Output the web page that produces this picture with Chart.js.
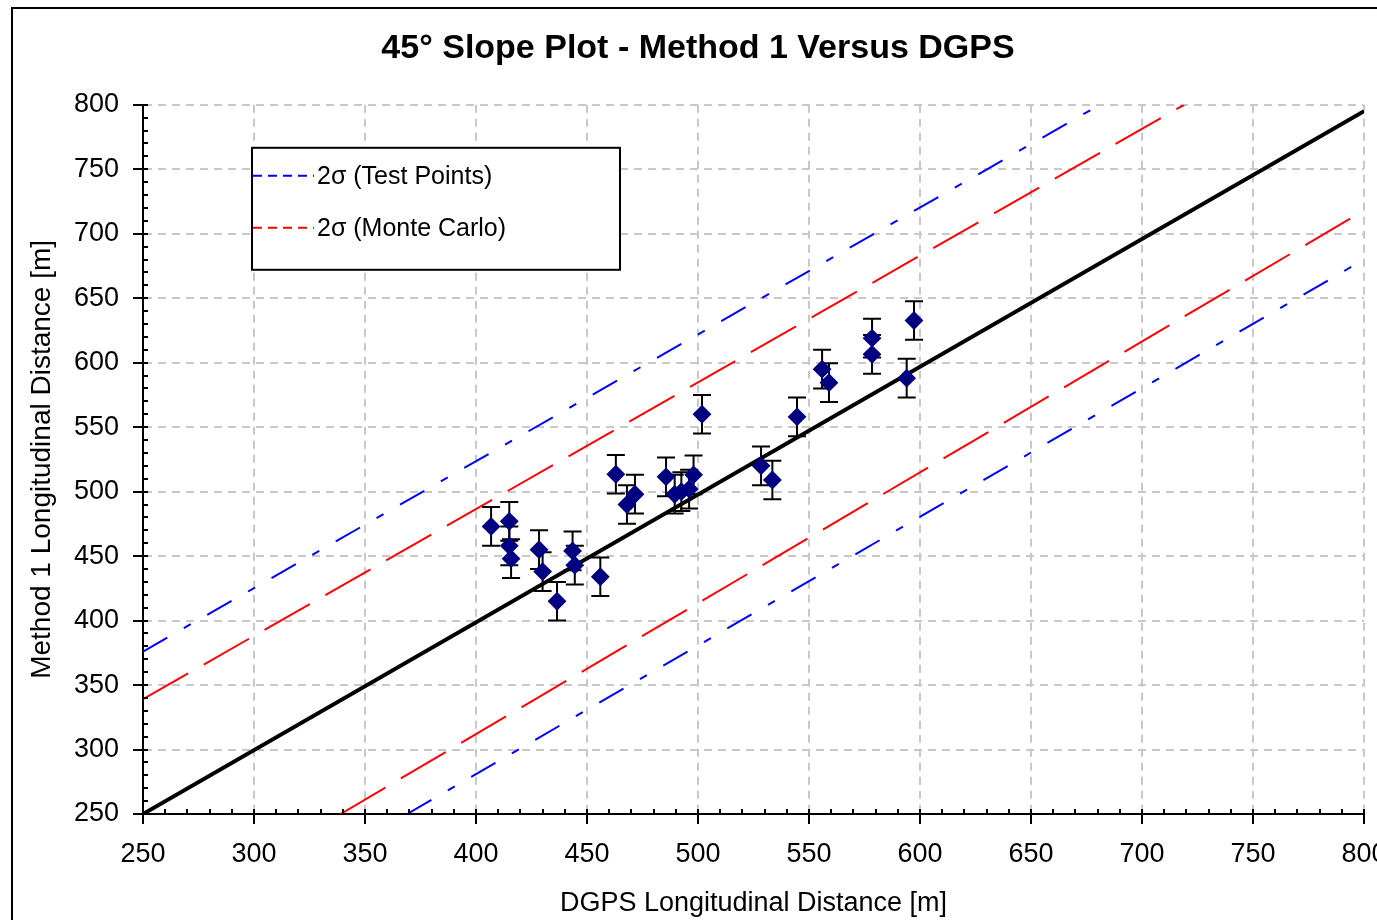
<!DOCTYPE html>
<html>
<head>
<meta charset="utf-8">
<title>45° Slope Plot - Method 1 Versus DGPS</title>
<script src="https://cdn.jsdelivr.net/npm/chart.js@4.4.1/dist/chart.umd.min.js"></script>
<style>
    html, body { margin: 0; padding: 0; background: #fff; overflow: hidden; }
    #wrap { position: relative; width: 1377px; height: 920px; overflow: hidden; }
    #slopeChart { position: absolute; left: 0; top: 0; }
    #frame {
        position: absolute; left: 11px; top: 7px; width: 1400px; height: 1000px;
        border: 2px solid #000; pointer-events: none;
    }
</style>
</head>
<body>
<div id="wrap">
    <canvas id="slopeChart" width="1396" height="920" style="width:1396px;height:920px"></canvas>
    <div id="frame"></div>
</div>
<script>
// test points
const dgps = [406.8, 415.0, 415.0, 415.8, 428.4, 430.0, 436.5, 443.5, 444.5, 456.0,
              463.0, 468.0, 471.6, 485.6, 489.5, 492.5, 496.0, 498.0, 501.8, 528.4,
              533.5, 544.6, 555.9, 559.0, 578.4, 578.4, 594.0, 597.3];
const method1 = [473, 477, 458, 448, 455, 438, 415, 454, 443, 434,
                 513.5, 490, 498, 511.5, 498, 500, 502, 513, 560, 520,
                 509, 558, 595, 584.5, 619, 606.5, 588, 632.7];
const errors = [15, 15, 15, 15, 15, 15, 15, 15, 15, 15,
                15, 15, 15, 15, 15, 15, 15, 15, 15, 15,
                15, 15, 15, 15, 15, 15, 15, 15];

// reference line and 2-sigma bands (end points)
const slopeX = [250, 800];
const slopeY = [250, 795];
const testUpperX = [250, 681];
const testUpperY = [376, 800];
const testLowerX = [369, 800];
const testLowerY = [250, 680];
const mcUpperX = [250, 719];
const mcUpperY = [339, 800];
const mcLowerX = [339, 800];
const mcLowerY = [250, 718];

const xTicks = [250, 300, 350, 400, 450, 500, 550, 600, 650, 700, 750, 800];
const yTicks = [250, 300, 350, 400, 450, 500, 550, 600, 650, 700, 750, 800];

const FONT = '"Liberation Sans", Arial, sans-serif';

const toPoints = (xs, ys) => xs.map((x, i) => ({ x, y: ys[i] }));

const errorBars = {
    id: 'errorBars',
    beforeDatasetDraw(chart, args) {
        const ds = chart.data.datasets[args.index];
        if (!ds.errors) return;
        const { ctx, scales: { x, y } } = chart;
        ctx.save();
        ctx.strokeStyle = '#000';
        ctx.lineWidth = 2;
        ds.data.forEach((p, i) => {
            const px = x.getPixelForValue(p.x);
            const top = y.getPixelForValue(p.y + ds.errors[i]);
            const bot = y.getPixelForValue(p.y - ds.errors[i]);
            ctx.beginPath();
            ctx.moveTo(px, top); ctx.lineTo(px, bot);
            ctx.moveTo(px - 9, top); ctx.lineTo(px + 9, top);
            ctx.moveTo(px - 9, bot); ctx.lineTo(px + 9, bot);
            ctx.stroke();
        });
        ctx.restore();
    }
};

// small inner ticks every 10 m
const minorTicks = {
    id: 'minorTicks',
    afterDraw(chart) {
        const { ctx, chartArea, scales: { x, y } } = chart;
        ctx.save();
        ctx.strokeStyle = '#000';
        ctx.lineWidth = 2;
        ctx.beginPath();
        for (let v = x.min; v <= x.max; v += 10) {
            const px = Math.round(x.getPixelForValue(v));
            ctx.moveTo(px, chartArea.bottom);
            ctx.lineTo(px, chartArea.bottom - 5);
        }
        for (let v = y.min; v <= y.max; v += 10) {
            const py = Math.round(y.getPixelForValue(v));
            ctx.moveTo(chartArea.left, py);
            ctx.lineTo(chartArea.left + 5, py);
        }
        ctx.stroke();
        ctx.restore();
    }
};

const boxLegend = {
    id: 'boxLegend',
    afterDraw(chart) {
        const { ctx, chartArea } = chart;
        const items = chart.data.datasets.filter(d => d.inLegend);
        const left = chartArea.left + 109;
        const top = chartArea.top + 43;
        ctx.save();
        ctx.fillStyle = '#fff';
        ctx.fillRect(left, top, 368, 122);
        ctx.strokeStyle = '#000';
        ctx.lineWidth = 2;
        ctx.strokeRect(left, top, 368, 122);
        items.forEach((d, i) => {
            const cy = top + 28 + i * 52;
            ctx.strokeStyle = d.borderColor;
            ctx.lineWidth = 2;
            ctx.setLineDash([9, 6]);
            ctx.beginPath();
            ctx.moveTo(left + 1, cy);
            ctx.lineTo(left + 62, cy);
            ctx.stroke();
            ctx.setLineDash([]);
            ctx.fillStyle = '#000';
            ctx.font = `25px ${FONT}`;
            ctx.textBaseline = 'middle';
            ctx.fillText(d.label, left + 65, cy + 1);
        });
        ctx.restore();
    }
};

function axis(titleText, titlePad, fit) {
    return {
        type: 'linear',
        min: 250,
        max: 800,
        afterBuildTicks: s => { s.ticks = (s.axis === 'x' ? xTicks : yTicks).map(v => ({ value: v })); },
        afterFit: fit,
        ticks: {
            color: '#000',
            font: { family: FONT, size: 27 },
            padding: 0
        },
        grid: {
            color: '#c8c8c8',
            lineWidth: 2,
            tickLength: 10,
            tickColor: '#000',
            tickWidth: 2
        },
        border: { display: true, color: '#000', width: 2, dash: [8, 6] },
        title: {
            display: true,
            text: titleText,
            color: '#000',
            font: { family: FONT, size: 27 },
            padding: titlePad
        }
    };
}

const xAxis = axis('DGPS Longitudinal Distance [m]', { top: 0, bottom: 0 }, s => {
    s.height = 106;
    s.paddingLeft = 0;
    s.paddingRight = 32;
});
xAxis.ticks.padding = 14;
const yAxis = axis('Method 1 Longitudinal Distance [m]', { top: 25, bottom: 0 }, s => { s.width = 143; });
yAxis.ticks.padding = 14;
yAxis.title.font = { family: FONT, size: 28 };

new Chart(document.getElementById('slopeChart'), {
    type: 'scatter',
    data: {
        datasets: [
            {
                label: 'Method 1',
                data: toPoints(dgps, method1),
                errors,
                pointStyle: 'rectRot',
                pointRadius: 8,
                pointBorderWidth: 2,
                backgroundColor: '#000080',
                borderColor: '#000080',
                showLine: false
            },
            {
                label: '45° line',
                data: toPoints(slopeX, slopeY),
                showLine: true,
                borderColor: '#000',
                borderWidth: 4,
                pointRadius: 0
            },
            {
                label: '2σ (Test Points)',
                inLegend: true,
                data: toPoints(testUpperX, testUpperY),
                showLine: true,
                borderColor: '#0000ff',
                borderWidth: 2,
                borderDash: [28, 19, 8, 19],
                pointRadius: 0
            },
            {
                label: '2σ (Test Points) lower',
                data: toPoints(testLowerX, testLowerY),
                showLine: true,
                borderColor: '#0000ff',
                borderWidth: 2,
                borderDash: [28, 19, 8, 19],
                pointRadius: 0
            },
            {
                label: '2σ (Monte Carlo)',
                inLegend: true,
                data: toPoints(mcUpperX, mcUpperY),
                showLine: true,
                borderColor: '#ff0000',
                borderWidth: 2,
                borderDash: [52, 18],
                pointRadius: 0
            },
            {
                label: '2σ (Monte Carlo) lower',
                data: toPoints(mcLowerX, mcLowerY),
                showLine: true,
                borderColor: '#ff0000',
                borderWidth: 2,
                borderDash: [52, 18],
                pointRadius: 0
            }
        ]
    },
    options: {
        responsive: false,
        animation: false,
        layout: { padding: 0 },
        plugins: {
            legend: { display: false },
            tooltip: { enabled: false },
            title: {
                display: true,
                text: '45° Slope Plot - Method 1 Versus DGPS',
                color: '#000',
                font: { family: FONT, size: 34, weight: 'bold' },
                padding: { top: 28, bottom: 36 }
            }
        },
        scales: { x: xAxis, y: yAxis }
    },
    plugins: [errorBars, minorTicks, boxLegend]
});
</script>
</body>
</html>
